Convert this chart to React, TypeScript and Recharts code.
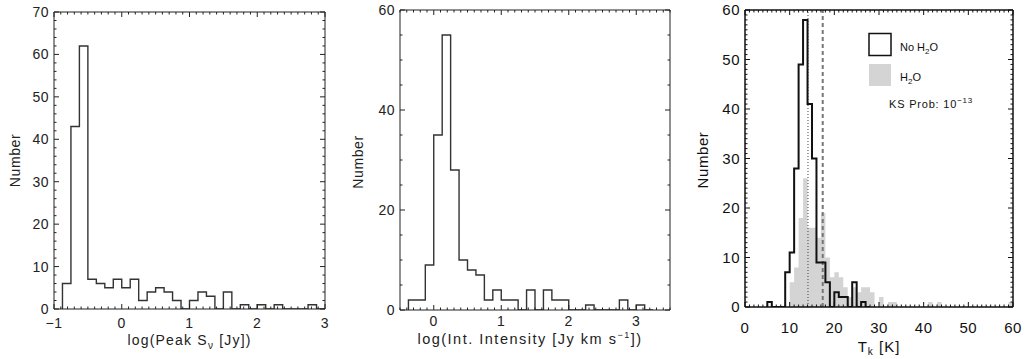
import React from 'react'
import { ComposedChart, Line, Area, XAxis, YAxis, ReferenceLine } from 'recharts'

const FONT = '"Liberation Sans", Arial, Helvetica, sans-serif'

// panel 1: log(Peak S_nu [Jy])
const peakBinStart = -0.875
const peakBinWidth = 0.125
const peakCounts = [6, 43, 62, 7, 6, 5, 7, 5, 7, 2, 4, 5, 4, 2, 0, 2, 4, 3, 0, 4, 0, 1, 0, 1, 0, 1, 0, 0, 0, 1, 0]
const peakXTicks = [-1, 0, 1, 2, 3]
const peakYTicks = [0, 10, 20, 30, 40, 50, 60, 70]

// panel 2: log(Int. Intensity [Jy km s^-1])
const intBinStart = -0.375
const intBinWidth = 0.125
const intCounts = [2, 2, 9, 35, 55, 28, 10, 8, 7, 2, 4, 2, 2, 0, 4, 0, 4, 2, 2, 0, 0, 1, 0, 0, 0, 2, 0, 1, 0]
const intXTicks = [0, 1, 2, 3]
const intYTicks = [0, 20, 40, 60]

// panel 3: T_k [K], no water vs water
const tkBinWidth = 1
const noWaterStart = 5
const noWaterCounts = [1, 0, 0, 0, 7, 11, 28, 49, 58, 41, 30, 9, 9, 5, 0, 3, 2, 2, 0, 5, 0, 1, 0]
const waterStart = 10
const waterCounts = [
  5, 8, 18, 26, 16, 16, 14, 19, 10, 6, 7, 6, 4, 2, 4, 3, 4, 4, 3, 0, 2, 0, 1, 1,
  0, 0, 0, 0, 0, 0, 0, 1, 0, 1,
  0, 0, 0, 0, 0, 0, 0, 0, 0, 0, 0, 0, 0, 0, 0, 1,
]
const tkXTicks = [0, 10, 20, 30, 40, 50, 60]
const tkYTicks = [0, 10, 20, 30, 40, 50, 60]
const tkMedianNoWater = 14.1
const tkMedianWater = 17.4

function stepPoints(start: number, width: number, counts: number[]) {
  const pts = [{ x: start, y: 0 }]
  counts.forEach((c, i) => pts.push({ x: start + i * width, y: c }))
  pts.push({ x: start + counts.length * width, y: 0 })
  return pts
}

function range(lo: number, hi: number, step: number) {
  const out: number[] = []
  const n = Math.round((hi - lo) / step)
  for (let i = 0; i <= n; i++) out.push(+(lo + i * step).toFixed(6))
  return out
}

const fmt = (v: number) => (v < 0 ? '\u2212' + Math.abs(v) : String(v))

type Cfg = {
  left: number
  width: number
  plotL: number
  plotR: number
  plotT: number
  plotB: number
  xDomain: [number, number]
  xMajor: number[]
  xMinor: number
  yDomain: [number, number]
  yMajor: number[]
  yMinor: number
  fs: number
  ink: string
  xLabelDy: number
  majorLen: number
  minorLen: number
  frame: number
}

const H = 359

function makeTick(cfg: Cfg, side: 'bottom' | 'top' | 'left' | 'right') {
  const majors = side === 'bottom' || side === 'top' ? cfg.xMajor : cfg.yMajor
  return (p: any) => {
    const v = p.payload.value
    const major = majors.some((m) => Math.abs(m - v) < 1e-6)
    const len = major ? cfg.majorLen : cfg.minorLen
    const { x, y } = p
    let line
    if (side === 'bottom') line = <line x1={x} x2={x} y1={y} y2={y - len} />
    else if (side === 'top') line = <line x1={x} x2={x} y1={y} y2={y + len} />
    else if (side === 'left') line = <line x1={x} x2={x + len} y1={y} y2={y} />
    else line = <line x1={x} x2={x - len} y1={y} y2={y} />
    return (
      <g stroke={cfg.ink} strokeWidth={1}>
        {line}
        {major && side === 'bottom' && (
          <text x={x} y={y + cfg.xLabelDy} textAnchor="middle" fontSize={cfg.fs} fill={cfg.ink} stroke="none"
            fontFamily={FONT} letterSpacing={0.5}>
            {fmt(v)}
          </text>
        )}
        {major && side === 'left' && (
          <text x={x - 5} y={y + cfg.fs * 0.36} textAnchor="end" fontSize={cfg.fs} fill={cfg.ink} stroke="none"
            fontFamily={FONT} letterSpacing={0.5}>
            {fmt(v)}
          </text>
        )}
      </g>
    )
  }
}

function Panel({ cfg, children }: { cfg: Cfg; children: React.ReactNode }) {
  const xt = range(cfg.xDomain[0], cfg.xDomain[1], cfg.xMinor)
  const yt = range(cfg.yDomain[0], cfg.yDomain[1], cfg.yMinor)
  const axisLine = { stroke: cfg.ink, strokeWidth: cfg.frame }
  return (
    <div style={{ position: 'absolute', left: cfg.left, top: 0 }}>
      <ComposedChart width={cfg.width} height={H} margin={{ top: 0, right: 0, bottom: 0, left: 0 }}>
        <XAxis xAxisId="b" orientation="bottom" dataKey="x" type="number" domain={cfg.xDomain} allowDataOverflow
          ticks={xt} interval={0} height={H - cfg.plotB} tickSize={0} tickMargin={0} tickLine={false}
          axisLine={axisLine} tick={makeTick(cfg, 'bottom')} />
        <XAxis xAxisId="t" orientation="top" dataKey="x" type="number" domain={cfg.xDomain} allowDataOverflow
          ticks={xt} interval={0} height={cfg.plotT} tickSize={0} tickMargin={0} tickLine={false}
          axisLine={axisLine} tick={makeTick(cfg, 'top')} />
        <YAxis yAxisId="l" orientation="left" type="number" domain={cfg.yDomain} allowDataOverflow
          ticks={yt} interval={0} width={cfg.plotL} tickSize={0} tickMargin={0} tickLine={false}
          axisLine={axisLine} tick={makeTick(cfg, 'left')} />
        <YAxis yAxisId="r" orientation="right" type="number" domain={cfg.yDomain} allowDataOverflow
          ticks={yt} interval={0} width={cfg.width - cfg.plotR} tickSize={0} tickMargin={0} tickLine={false}
          axisLine={axisLine} tick={makeTick(cfg, 'right')} />
        {children}
      </ComposedChart>
    </div>
  )
}

const peakCfg: Cfg = {
  left: 0, width: 340, plotL: 54, plotR: 325, plotT: 12, plotB: 309,
  xDomain: [-1, 3], xMajor: peakXTicks, xMinor: 0.1,
  yDomain: [0, 70], yMajor: peakYTicks, yMinor: 2,
  fs: 14, ink: '#222', xLabelDy: 19, majorLen: 5, minorLen: 2.5, frame: 1,
}

const intCfg: Cfg = {
  left: 340, width: 340, plotL: 60, plotR: 330, plotT: 10, plotB: 310,
  xDomain: [-0.5, 3.5], xMajor: intXTicks, xMinor: 0.1,
  yDomain: [0, 60], yMajor: intYTicks, yMinor: 5,
  fs: 14, ink: '#222', xLabelDy: 16, majorLen: 5, minorLen: 2.5, frame: 1,
}

const tkCfg: Cfg = {
  left: 680, width: 350, plotL: 65, plotR: 333, plotT: 10, plotB: 307,
  xDomain: [0, 60], xMajor: tkXTicks, xMinor: 1,
  yDomain: [0, 60], yMajor: tkYTicks, yMinor: 1,
  fs: 15, ink: '#111', xLabelDy: 26, majorLen: 5, minorLen: 2.5, frame: 1.5,
}

export default function App() {
  const peakData = stepPoints(peakBinStart, peakBinWidth, peakCounts)
  const intData = stepPoints(intBinStart, intBinWidth, intCounts)
  const noWaterData = stepPoints(noWaterStart, tkBinWidth, noWaterCounts)
  const waterData = stepPoints(waterStart, tkBinWidth, waterCounts)

  return (
    <div style={{ position: 'absolute', left: 0, top: 0, width: 1030, height: H, background: '#fff', fontFamily: FONT }}>
      <Panel cfg={peakCfg}>
        <Line xAxisId="b" yAxisId="l" data={peakData} dataKey="y" type="stepAfter" stroke="#333" strokeWidth={1.4}
          dot={false} activeDot={false} isAnimationActive={false} />
      </Panel>
      <Panel cfg={intCfg}>
        <Line xAxisId="b" yAxisId="l" data={intData} dataKey="y" type="stepAfter" stroke="#333" strokeWidth={1.4}
          dot={false} activeDot={false} isAnimationActive={false} />
      </Panel>
      <Panel cfg={tkCfg}>
        <Area xAxisId="b" yAxisId="l" data={waterData} dataKey="y" type="stepAfter" fill="#d4d4d4" fillOpacity={1}
          stroke="none" dot={false} activeDot={false} isAnimationActive={false} />
        <ReferenceLine xAxisId="b" yAxisId="l" x={tkMedianNoWater} stroke="#444" strokeWidth={1} strokeDasharray="1 2" />
        <ReferenceLine xAxisId="b" yAxisId="l" x={tkMedianWater} stroke="#777" strokeWidth={2} strokeDasharray="4 3" />
        <Line xAxisId="b" yAxisId="l" data={noWaterData} dataKey="y" type="stepAfter" stroke="#111" strokeWidth={2}
          dot={false} activeDot={false} isAnimationActive={false} />
      </Panel>

      <svg width={1030} height={H} style={{ position: 'absolute', left: 0, top: 0, pointerEvents: 'none' }} fontFamily={FONT}>
        <g fill="#222" fontSize={14}>
          <text x={20} y={160.5} textAnchor="middle" letterSpacing={0.6} transform="rotate(-90 20 160.5)">Number</text>
          <text x={363} y={162} textAnchor="middle" letterSpacing={0.6} transform="rotate(-90 363 162)">Number</text>
          <text x={189.5} y={345} textAnchor="middle" letterSpacing={1.2}>
            log(Peak S<tspan fontSize={10} dy={4}>ν</tspan><tspan dy={-4}> [Jy])</tspan>
          </text>
          <text x={530} y={344} textAnchor="middle" fontSize={14.5} letterSpacing={1.5}>
            log(Int. Intensity [Jy km s<tspan fontSize={9} dy={-6}>−1</tspan><tspan dy={6}>])</tspan>
          </text>
        </g>
        <g fill="#111" fontSize={15}>
          <text x={708} y={160} textAnchor="middle" letterSpacing={0.6} transform="rotate(-90 708 160)">Number</text>
          <text x={879} y={352} textAnchor="middle" letterSpacing={1}>
            T<tspan fontSize={10} dy={3}>k</tspan><tspan dy={-3}> [K]</tspan>
          </text>
        </g>
        <rect x={869} y={33.5} width={22} height={22} fill="#fff" stroke="#111" strokeWidth={1.5} />
        <rect x={869} y={64} width={22} height={22} fill="#d4d4d4" />
        <g fill="#111" fontSize={11}>
          <text x={900} y={51}>No H<tspan fontSize={8} dy={3}>2</tspan><tspan dy={-3}>O</tspan></text>
          <text x={900} y={81}>H<tspan fontSize={8} dy={3}>2</tspan><tspan dy={-3}>O</tspan></text>
          <text x={889} y={108} letterSpacing={0.8}>KS Prob: 10<tspan fontSize={8} dy={-5}>−13</tspan></text>
        </g>
      </svg>
    </div>
  )
}
